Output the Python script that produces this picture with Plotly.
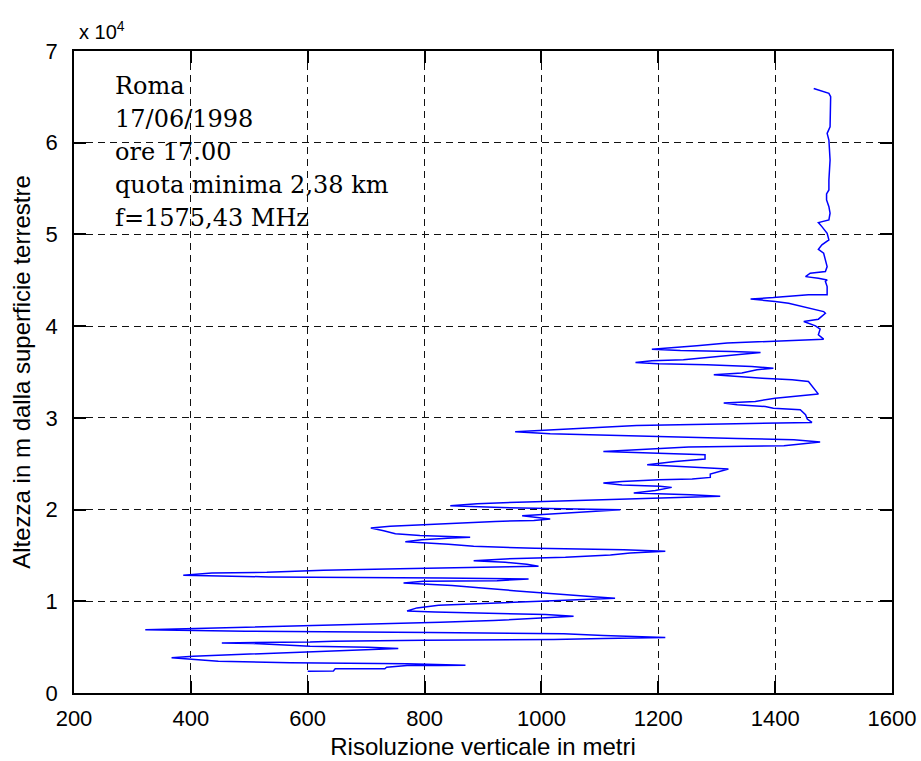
import plotly.graph_objects as go

# Vertical resolution (m) vs. altitude above ground (m)
risoluzione = [
    600, 644, 647, 732, 735, 770, 824, 870, 770, 570, 447, 404, 367, 404, 479, 558, 635, 712, 755, 704,
    604, 507, 453, 604, 644, 798, 1021, 1106, 1152, 1212, 1106, 1038, 810, 493, 322, 399, 550, 704, 798, 827,
    918, 987, 1055, 1007, 915, 818, 770, 787, 824, 895, 967, 1035, 1095, 1126, 1095, 1046, 992, 958, 898, 847,
    764, 798, 924, 978, 830, 533, 387, 436, 530, 627, 757, 915, 995, 975, 938, 884, 938, 1041, 1118, 1152,
    1212, 1141, 989, 884, 841, 767, 795, 847, 878, 792, 750, 730, 708, 741, 798, 861, 921, 987, 1015, 967,
    1049, 1135, 1061, 918, 844, 890, 975, 1066, 1158, 1255, 1306, 1255, 1158, 1195, 1223, 1203, 1138, 1106, 1138, 1201,
    1258, 1289, 1289, 1320, 1289, 1218, 1181, 1229, 1280, 1280, 1241, 1152, 1106, 1252, 1346, 1415, 1477, 1432, 1335, 1238,
    1132, 1015, 955, 1004, 1046, 1163, 1363, 1463, 1455, 1452, 1443, 1397, 1383, 1335, 1312, 1366, 1400, 1432, 1474, 1457,
    1429, 1378, 1326, 1295, 1343, 1369, 1397, 1360, 1283, 1200, 1161, 1189, 1243, 1292, 1375, 1326, 1238, 1189, 1215, 1266,
    1318, 1375, 1449, 1483, 1474, 1477, 1469, 1455, 1449, 1474, 1486, 1483, 1466, 1440, 1423, 1400, 1358, 1397, 1457, 1489,
    1489, 1486, 1489, 1474, 1452, 1460, 1486, 1489, 1486, 1483, 1474, 1480, 1492, 1489, 1480, 1474, 1492, 1494, 1492, 1488,
    1488, 1492, 1492, 1494, 1492, 1489, 1494, 1494, 1495, 1492, 1483, 1474, 1466,
]
altezza = [
    2375, 2400, 2635, 2650, 2810, 2995, 3000, 3030, 3180, 3290, 3465, 3650, 3830, 4010, 4190, 4450, 4630, 4740, 4850, 4990,
    5100, 5390, 5465, 5560, 5645, 5750, 5830, 5950, 6010, 6050, 6265, 6450, 6600, 6735, 6900, 7025, 7240, 7460, 7650, 7715,
    7900, 8115, 8370, 8550, 8660, 8845, 8950, 9280, 9565, 9750, 9935, 10075, 10200, 10330, 10480, 10700, 10920, 11130, 11460, 11710,
    12000, 12180, 12250, 12440, 12550, 12660, 12830, 13090, 13160, 13380, 13560, 13700, 13810, 14030, 14250, 14430, 14620, 14790, 15050, 15270,
    15450, 15630, 15770, 15990, 16210, 16500, 16720, 16900, 16970, 17160, 17370, 17700, 18000, 18170, 18350, 18540, 18710, 18820, 18975, 19335,
    19630, 19990, 20060, 20240, 20425, 20640, 20830, 21000, 21150, 21330, 21440, 21620, 21800, 22090, 22420, 22530, 22680, 22900, 23070, 23260,
    23330, 23510, 23880, 24420, 24530, 24710, 24890, 25250, 25510, 25980, 26050, 26230, 26340, 26820, 26890, 26960, 27360, 27610, 27760, 27910,
    28050, 28270, 28490, 28630, 28780, 29170, 29430, 29500, 29870, 30340, 30880, 31060, 31240, 31430, 31610, 31790, 32150, 32330, 32590, 33960,
    34150, 34330, 34510, 34690, 34880, 35240, 35420, 35600, 35790, 35890, 36030, 36220, 36330, 36620, 37120, 37230, 37340, 37490, 37600, 37850,
    38150, 38320, 38510, 38580, 39050, 39670, 40030, 40330, 40500, 40760, 41410, 41590, 41850, 42210, 42500, 42680, 42970, 43110, 43410, 43410,
    44310, 44860, 45040, 45220, 45400, 45770, 45950, 46490, 47220, 47950, 48380, 48860, 49400, 50130, 50850, 51290, 51580, 52310, 53030, 53760,
    54410, 54850, 55940, 58120, 60290, 61020, 61740, 63920, 65010, 65380, 65560, 65740, 65920,
]

x_ticks = [200, 400, 600, 800, 1000, 1200, 1400, 1600]
y_ticks = [0, 10000, 20000, 30000, 40000, 50000, 60000, 70000]
y_tick_labels = ["0", "1", "2", "3", "4", "5", "6", "7"]
info_lines = ["Roma", "17/06/1998", "ore 17.00", "quota minima 2,38 km", "f=1575,43 MHz"]

SANS = "Liberation Sans, Arial, sans-serif"
SERIF = "DejaVu Serif, Liberation Serif, serif"

fig = go.Figure()
fig.add_trace(go.Scatter(x=risoluzione, y=altezza, mode="lines",
                         line=dict(color="#0000ff", width=1.5), showlegend=False))

axis_common = dict(
    showline=True, linecolor="black", linewidth=1.5, mirror="allticks",
    ticks="inside", ticklen=12, tickwidth=1.5, tickcolor="black",
    showgrid=True, gridcolor="#111111", gridwidth=1.2, griddash="7px,5px",
    zeroline=False, tickfont=dict(family=SANS, size=22, color="black"),
)

fig.update_xaxes(range=[200, 1600], tickvals=x_ticks, ticktext=[str(v) for v in x_ticks],
                 title=dict(text="Risoluzione verticale in metri", font=dict(family=SANS, size=24, color="black"),
                            standoff=8),
                 ticklabelstandoff=5, **axis_common)
fig.update_yaxes(range=[0, 70000], tickvals=y_ticks, ticktext=y_tick_labels,
                 title=dict(text="Altezza in m dalla superficie terrestre", font=dict(family=SANS, size=24, color="black"),
                            standoff=8),
                 ticklabelstandoff=10, **axis_common)

annotations = []
baseline0 = 95
for i, line in enumerate(info_lines):
    yc = baseline0 + 33 * i - 9
    annotations.append(dict(xref="paper", yref="paper", x=(113 - 74) / 817.6, y=(693.5 - yc) / 642.5,
                            xanchor="left", yanchor="middle", text=line, showarrow=False,
                            font=dict(family=SERIF, size=24, color="black")))
annotations.append(dict(xref="paper", yref="paper", x=(77 - 74) / 817.6, y=(693.5 - 30) / 642.5,
                        xanchor="left", yanchor="middle", text="x 10<sup>4</sup>", showarrow=False,
                        font=dict(family=SANS, size=20, color="black")))

fig.update_layout(
    width=921, height=761,
    margin=dict(l=74, r=29.4, t=51, b=67.5, autoexpand=False),
    paper_bgcolor="white", plot_bgcolor="white",
    annotations=annotations,
)

fig.write_html("out.html")
